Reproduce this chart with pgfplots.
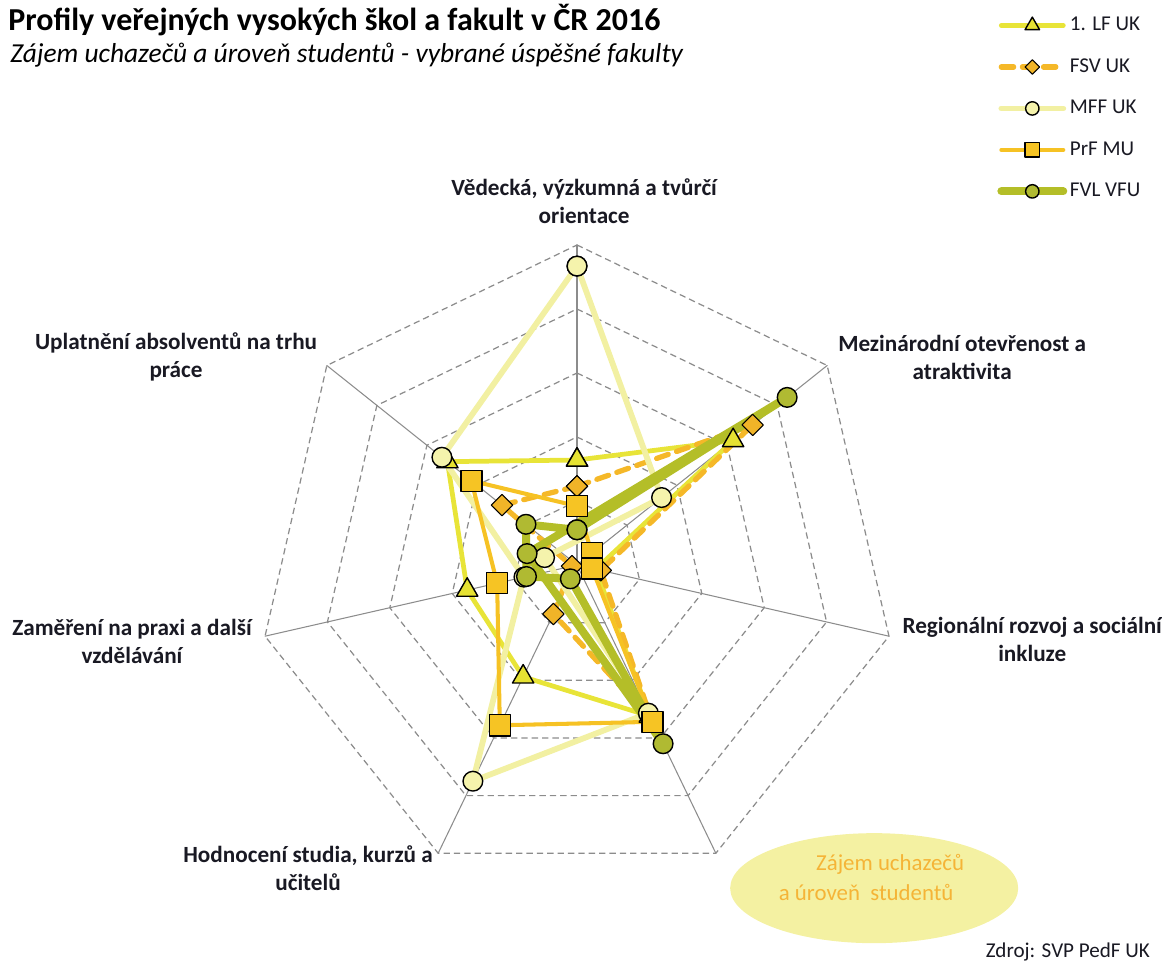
\documentclass[border=0pt]{standalone}
\usepackage{fontspec}
\setmainfont{Carlito}
\usepackage{pgfplots}
\pgfplotsset{compat=1.18}
\definecolor{clf}{RGB}{232,228,56}
\definecolor{clffill}{RGB}{230,226,50}
\definecolor{cfsv}{RGB}{245,184,40}
\definecolor{cfsvfill}{RGB}{240,180,40}
\definecolor{cmff}{RGB}{242,240,162}
\definecolor{cmfffill}{RGB}{245,243,172}
\definecolor{cprf}{RGB}{246,194,36}
\definecolor{cprffill}{RGB}{246,196,36}
\definecolor{cfvl}{RGB}{180,190,40}
\definecolor{cfvlfill}{RGB}{176,186,50}
\definecolor{cgrid}{RGB}{140,140,140}
\definecolor{cell}{RGB}{244,241,162}
\definecolor{celltext}{RGB}{245,180,55}
\definecolor{ctext}{RGB}{25,25,35}

\pgfplotstableread{
ang     lf     fsv    mff    prf    fvl
90        1.64   1.23   4.67   0.92   0.55
38.5714   3.12   3.51   1.69   0.30   4.20
-12.8571  0.30   0.38  -0.52   0.24  -0.80
-64.2857  2.62   2.68   2.57   2.72   3.10
-115.7143 1.94   0.85   3.75   2.78   0.24
-167.1429 1.76   0.08   0.85   1.28   0.81
141.4286  2.59   1.50   2.70   2.11   1.02
90        1.64   1.23   4.67   0.92   0.55
}\radar

\begin{document}
\begin{tikzpicture}
\begin{axis}[
  at={(0,0)}, anchor=south west,
  x=1.28cm, y=1.28cm,
  xmin=-9.015625, xmax=9.140625, ymin=-6.234375, ymax=8.828125,
  hide axis, clip=false,
  legend style={at={(0.858,0.9876)}, anchor=north west, draw=none, fill=none,
    font=\fontsize{12}{14}\selectfont, text=ctext, row sep=8.6pt, inner sep=0pt,
    nodes={inner sep=1.5pt, text height=9pt, text depth=3pt}},
  legend cell align=left,
  legend image code/.code={\draw[mark repeat=2,mark phase=2,#1, every mark/.append style={scale=0.68}] plot coordinates {(0cm,0cm) (0.62cm,0cm) (1.24cm,0cm)};},
  every axis plot/.append style={line join=round, line cap=round},
]
\pgfplotsinvokeforeach{1,2,3,4,5}{
  \addplot[forget plot, data cs=polar, color=cgrid, line width=0.7pt, dash pattern=on 3.6pt off 2.3pt, line cap=butt]
    coordinates {(90,#1) (38.5714,#1) (-12.8571,#1) (-64.2857,#1) (-115.7143,#1) (-167.1429,#1) (141.4286,#1) (90,#1)};
}
\pgfplotsinvokeforeach{90,38.5714,-12.8571,-64.2857,-115.7143,-167.1429,141.4286}{
  \addplot[forget plot, data cs=polar, color=cgrid, line width=0.6pt] coordinates {(#1,0) (#1,5)};
}
\addplot[data cs=polar, color=clf, line width=2.7pt, mark=triangle*, mark size=7pt,
  mark options={solid, draw=black, fill=clffill, line width=0.8pt}] table[x=ang, y=lf] {\radar};
\addlegendentry{1. LF UK}
\addplot[data cs=polar, color=cfsv, line width=3pt, dash pattern=on 7pt off 5pt, mark=square*, mark size=4.3pt,
  mark options={solid, rotate=45, draw=black, fill=cfsvfill, line width=0.6pt}] table[x=ang, y=fsv] {\radar};
\addlegendentry{FSV UK}
\addplot[data cs=polar, color=cmff, line width=3.3pt, mark=*, mark size=5.6pt,
  mark options={solid, draw=black, fill=cmfffill, line width=0.8pt}] table[x=ang, y=mff] {\radar};
\addlegendentry{MFF UK}
\addplot[data cs=polar, color=cprf, line width=2.3pt, mark=square*, mark size=6pt,
  mark options={solid, draw=black, fill=cprffill, line width=0.8pt}] table[x=ang, y=prf] {\radar};
\addlegendentry{PrF MU}
\addplot[data cs=polar, color=cfvl, line width=4.5pt, mark=*, mark size=5.6pt,
  mark options={solid, draw=black, fill=cfvlfill, line width=0.8pt}] table[x=ang, y=fvl] {\radar};
\addlegendentry{FVL VFU}
\end{axis}
\begin{scope}[x=0.02cm, y=-0.02cm, yshift=19.28cm]
\node[anchor=base west, inner sep=0pt, text=black, font=\bfseries\fontsize{18.2}{21}\selectfont] at (8,31) {Profily veřejných vysokých škol a fakult v ČR 2016};
\node[anchor=base west, inner sep=0pt, text=black, font=\itshape\fontsize{15.6}{18}\selectfont] at (10,62) {Zájem uchazečů a úroveň studentů - vybrané úspěšné fakulty};
\tikzset{lab/.style={align=center, inner sep=0pt, text=ctext, font=\bfseries\fontsize{13.2}{16}\selectfont}}
\node[lab] at (584,201) {Vědecká, výzkumná a tvůrčí\\orientace};
\node[lab] at (962,357) {Mezinárodní otevřenost a\\atraktivita};
\node[lab] at (1032,639) {Regionální rozvoj a sociální\\inkluze};
\node[lab] at (308,868) {Hodnocení studia, kurzů a\\učitelů};
\node[lab] at (132,641) {Zaměření na praxi a další\\vzdělávání};
\node[lab] at (176,357) {Uplatnění absolventů na trhu\\práce};
\fill[cell] (874,888) ellipse [x radius=144, y radius=55];
\node[anchor=base, inner sep=0pt, text=celltext, font=\fontsize{13}{16}\selectfont] at (890,870) {Zájem uchazečů};
\node[anchor=base, inner sep=0pt, text=celltext, font=\fontsize{13}{16}\selectfont] at (866,900) {a úroveň\ \ studentů};
\node[anchor=base east, inner sep=0pt, text=ctext, font=\fontsize{12}{14}\selectfont] at (1150,957) {Zdroj: SVP PedF UK};
\end{scope}
\pgfresetboundingbox
\path[use as bounding box] (0,0) rectangle (23.24cm,19.28cm);
\end{tikzpicture}
\end{document}
